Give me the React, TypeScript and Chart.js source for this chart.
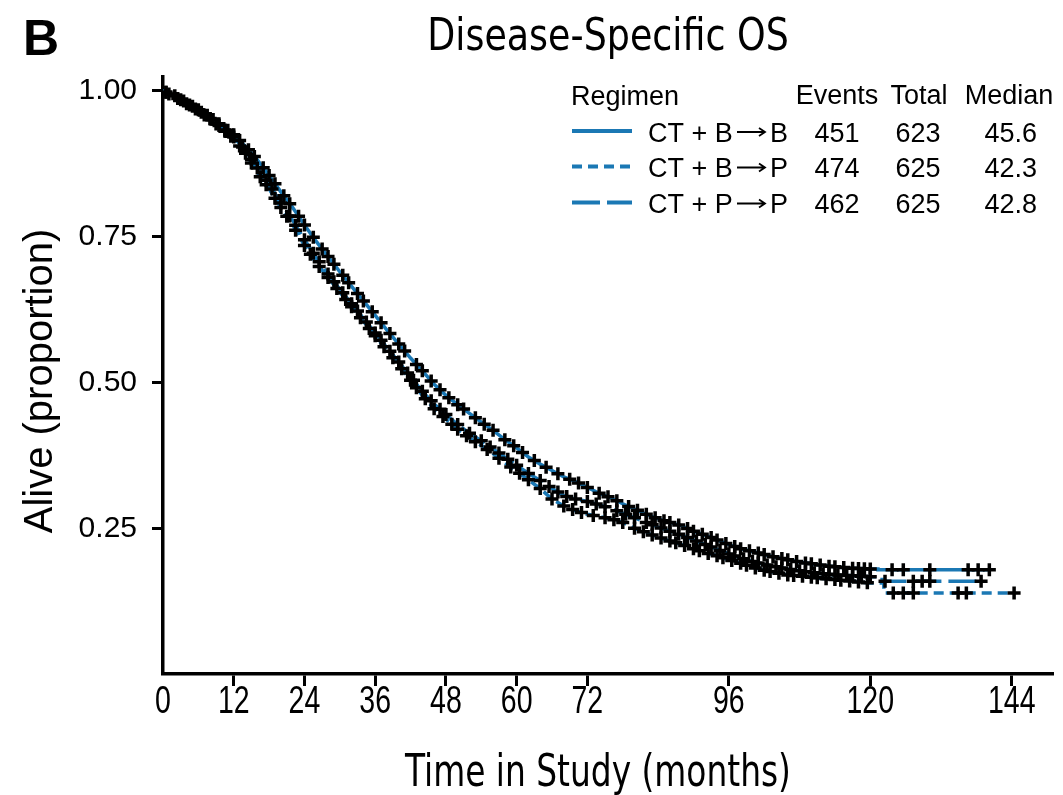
import React, { useEffect, useRef } from 'react';
import { Chart, registerables } from 'chart.js';

Chart.register(...registerables);

const BLUE = '#1b78b4';
const FAM = '"Liberation Sans", Arial, Helvetica, sans-serif';
const FAM_COND = '"DejaVu Sans Condensed", "DejaVu Sans", sans-serif';

const TITLE = 'Disease-Specific OS';
const PANEL = 'B';
const X_TITLE = 'Time in Study (months)';
const Y_TITLE = 'Alive (proportion)';

const X_TICKS = [0, 12, 24, 36, 48, 60, 72, 96, 120, 144];
const Y_TICKS = [0.25, 0.5, 0.75, 1.0];

const REG_LEFT = ['CT + B', 'CT + B', 'CT + P'];
const REG_RIGHT = ['B', 'P', 'P'];
const EVENTS = [451, 474, 462];
const TOTALS = [623, 625, 625];
const MEDIANS = ['45.6', '42.3', '42.8'];

const gridMonths = [
  0, 2, 4, 6, 8, 10, 12, 14, 16, 18, 20, 22, 24, 26, 28, 30, 32, 34, 36, 38,
  40, 42, 44, 46, 48, 50, 52, 54, 56, 58, 60, 62, 64, 66, 68, 70, 72, 74, 76, 78,
  80, 82, 84, 86, 88, 90, 92, 94, 96, 98, 100, 102, 104, 106, 108, 110, 112, 114, 116, 118, 120,
];

// CT + B -> B (solid)
const survBB = [
  1.0, 0.992, 0.98, 0.968, 0.955, 0.94, 0.925, 0.905, 0.882, 0.855, 0.827, 0.8, 0.77, 0.742, 0.716, 0.69,
  0.665, 0.64, 0.615, 0.59, 0.566, 0.542, 0.52, 0.497, 0.478, 0.462, 0.447, 0.432, 0.418, 0.402,
  0.388, 0.372, 0.36, 0.349, 0.338, 0.33, 0.32, 0.31, 0.302, 0.292, 0.283, 0.274, 0.266, 0.26, 0.254,
  0.245, 0.238, 0.23, 0.222, 0.215, 0.21, 0.205, 0.2, 0.196, 0.192, 0.189, 0.186, 0.184, 0.182, 0.181, 0.18,
];
const tailMonthsBB = [121.3, 121.3, 140.2];
const tailSurvBB = [0.18, 0.179, 0.179];

// CT + B -> P (dotted)
const survBP = [
  1.0, 0.99, 0.978, 0.966, 0.952, 0.935, 0.918, 0.893, 0.86, 0.832, 0.8, 0.77, 0.735, 0.705, 0.68, 0.655,
  0.63, 0.605, 0.58, 0.555, 0.53, 0.504, 0.478, 0.455, 0.437, 0.42, 0.405, 0.392, 0.378, 0.362,
  0.348, 0.333, 0.318, 0.3, 0.288, 0.28, 0.274, 0.27, 0.266, 0.26, 0.25, 0.242, 0.235, 0.228, 0.222,
  0.215, 0.208, 0.203, 0.196, 0.19, 0.183, 0.178, 0.174, 0.17, 0.168, 0.166, 0.164, 0.162, 0.16, 0.158, 0.156,
];
const tailMonthsBP = [122.3, 122.3, 144.4];
const tailSurvBP = [0.156, 0.139, 0.139];

// CT + P -> P (dashed)
const survPP = [
  1.0, 0.991, 0.979, 0.967, 0.953, 0.937, 0.921, 0.898, 0.868, 0.84, 0.808, 0.778, 0.745, 0.714, 0.686, 0.66,
  0.635, 0.61, 0.585, 0.56, 0.535, 0.51, 0.485, 0.463, 0.445, 0.428, 0.413, 0.4, 0.386, 0.372,
  0.358, 0.344, 0.332, 0.318, 0.306, 0.3, 0.296, 0.29, 0.284, 0.276, 0.268, 0.26, 0.252, 0.245, 0.238,
  0.23, 0.222, 0.214, 0.206, 0.199, 0.193, 0.188, 0.184, 0.18, 0.177, 0.174, 0.172, 0.17, 0.169, 0.168, 0.167,
];
const tailMonthsPP = [122, 122, 138.8];
const tailSurvPP = [0.167, 0.159, 0.159];

// censoring times (months)
const censorBB = [
  0.5, 2, 3.5, 5, 6, 7.5, 8.5, 9.5, 11, 12, 13, 14.5, 15.5, 17, 18, 19, 20.5, 21.5, 23, 24, 25.5, 27, 28, 29,
  30.5, 31.5, 33, 34, 35.5, 37, 38.5, 40, 41, 43, 44, 45.5, 47, 48.5, 50, 51, 53, 54.5, 56, 58, 59.5, 61, 63,
  65, 67, 69, 70.5, 72, 74, 75.5, 77, 79, 80.5, 82, 83.5, 85, 86, 87.5, 89, 90, 91.5, 93, 94, 95.5, 97, 98,
  99.5, 101, 102, 103.5, 105, 106, 107.5, 109, 110, 111.5, 113, 114, 115.5, 117, 118, 119, 120,
  123.7, 125.6, 130.1, 136.6, 138.3, 140.2,
];
const censorBP = [
  1, 2.5, 4, 5.5, 7, 8, 9, 10.5, 11.5, 13, 14, 15, 16.5, 17.5, 19, 20, 21, 22.5, 24, 25, 26.5, 28, 29.5, 31,
  32, 33.5, 35, 36, 37.5, 39, 40.5, 42, 43, 44.5, 46, 47.5, 49, 50, 51.5, 53, 55, 57, 59, 60.5, 62, 64, 66,
  68, 69.5, 71, 73, 75, 76.5, 78, 80, 81.5, 83, 84.5, 86, 87, 88.5, 90, 91, 92.5, 94, 95, 96.5, 98, 99, 100.5,
  102, 103, 104.5, 106, 107, 108.5, 110, 111, 112.5, 114, 115, 116.5, 118, 119.5,
  123.9, 125.6, 127.3, 134.9, 136.3, 144.4,
];
const censorPP = [
  0.5, 3, 4.5, 6.5, 8, 9.5, 10.5, 12, 13.5, 15, 16, 17.5, 18.5, 20, 21.5, 22.5, 24, 25.5, 26.5, 28, 29, 30.5,
  32, 33, 34.5, 36, 37, 38.5, 40, 41.5, 42.5, 44, 45.5, 47, 48, 50, 52, 54, 55.5, 57, 58.5, 60, 62, 64, 65.5,
  67, 68.5, 70, 72, 73.5, 75, 77, 78.5, 80, 82, 83, 84.5, 86, 87.5, 89, 90.5, 92, 93, 94.5, 96, 97, 98.5, 100,
  101, 102.5, 104, 105, 106.5, 108, 109, 110.5, 112, 113, 114.5, 116, 117, 118.5, 120,
  122.5, 127.3, 128.8, 130.1, 138.8,
];

type Pt = { x: number; y: number };

function buildCurve(tailMonths: number[], tailSurv: number[], surv: number[]): Pt[] {
  const pts: Pt[] = gridMonths.map((m, i) => ({ x: m, y: surv[i] }));
  tailMonths.forEach((m, i) => pts.push({ x: m, y: tailSurv[i] }));
  return pts;
}

function valueAt(curve: Pt[], t: number): number {
  let best = curve[0].y;
  for (let i = 0; i < curve.length - 1; i++) {
    const a = curve[i];
    const b = curve[i + 1];
    if (t >= a.x && t <= b.x) {
      if (b.x === a.x) return a.y;
      return a.y + ((b.y - a.y) * (t - a.x)) / (b.x - a.x);
    }
    if (t > b.x) best = b.y;
  }
  return best;
}

const DASHES = [[], [10, 6], [28, 7]];

function scaledText(
  ctx: CanvasRenderingContext2D,
  text: string,
  x: number,
  y: number,
  font: string,
  sx: number,
  align: CanvasTextAlign,
) {
  ctx.save();
  ctx.translate(x, y);
  ctx.scale(sx, 1);
  ctx.font = font;
  ctx.textAlign = align;
  ctx.fillText(text, 0, 0);
  ctx.restore();
}

const overlayPlugin = {
  id: 'overlay',
  afterDraw(chart: any) {
    const ctx: CanvasRenderingContext2D = chart.ctx;
    ctx.save();
    ctx.fillStyle = '#000';
    ctx.textBaseline = 'alphabetic';

    ctx.textAlign = 'left';
    ctx.font = `bold 50px ${FAM}`;
    ctx.fillText(PANEL, 23, 55);

    scaledText(ctx, TITLE, 608, 50, `44px ${FAM_COND}`, 0.92, 'center');
    scaledText(ctx, X_TITLE, 598, 786, `44px ${FAM_COND}`, 0.83, 'center');

    // x tick labels (condensed)
    const xs = chart.scales.x;
    X_TICKS.forEach((v) => {
      scaledText(ctx, String(v), xs.getPixelForValue(v), 713, `38px ${FAM}`, 0.75, 'center');
    });

    ctx.save();
    ctx.translate(52, 381);
    ctx.rotate(-Math.PI / 2);
    ctx.font = `40px ${FAM}`;
    ctx.textAlign = 'center';
    ctx.fillText(Y_TITLE, 0, 0);
    ctx.restore();

    // legend table
    ctx.font = `27px ${FAM}`;
    ctx.textAlign = 'left';
    ctx.fillText('Regimen', 571, 105);
    ctx.textAlign = 'center';
    ctx.fillText('Events', 837, 104);
    ctx.fillText('Total', 919, 104);
    ctx.fillText('Median', 1009, 104);

    const rowBase = [141.5, 177, 213];
    REG_LEFT.forEach((name, i) => {
      const yb = rowBase[i];
      ctx.save();
      ctx.strokeStyle = BLUE;
      ctx.lineWidth = 4;
      ctx.setLineDash(DASHES[i]);
      ctx.beginPath();
      ctx.moveTo(572, yb - 10.5);
      ctx.lineTo(632, yb - 10.5);
      ctx.stroke();
      ctx.restore();

      ctx.textAlign = 'left';
      ctx.fillText(name, 648, yb);
      // arrow
      ctx.save();
      ctx.strokeStyle = '#000';
      ctx.lineWidth = 1.8;
      const ay = yb - 9.5;
      ctx.beginPath();
      ctx.moveTo(737, ay);
      ctx.lineTo(765, ay);
      ctx.moveTo(759, ay - 4);
      ctx.lineTo(765, ay);
      ctx.lineTo(759, ay + 4);
      ctx.stroke();
      ctx.restore();
      ctx.fillText(REG_RIGHT[i], 770, yb);

      ctx.textAlign = 'center';
      ctx.fillText(String(EVENTS[i]), 837, yb);
      ctx.fillText(String(TOTALS[i]), 918, yb);
      ctx.textAlign = 'right';
      ctx.fillText(MEDIANS[i], 1037, yb);
    });
    ctx.restore();
  },
};

export default function App() {
  const ref = useRef<HTMLCanvasElement | null>(null);

  useEffect(() => {
    if (!ref.current) return;
    const curveBB = buildCurve(tailMonthsBB, tailSurvBB, survBB);
    const curveBP = buildCurve(tailMonthsBP, tailSurvBP, survBP);
    const curvePP = buildCurve(tailMonthsPP, tailSurvPP, survPP);
    const curves = [curveBB, curveBP, curvePP];
    const censors = [censorBB, censorBP, censorPP];

    const lineSets = curves.map((c, i) => ({
      type: 'line' as const,
      label: REG_LEFT[i] + ' -> ' + REG_RIGHT[i],
      data: c,
      borderColor: BLUE,
      backgroundColor: BLUE,
      borderWidth: 3.5,
      borderDash: DASHES[i],
      pointRadius: 0,
      fill: false,
      tension: 0,
      order: 2,
    }));
    const markSets = censors.map((cs, i) => ({
      type: 'line' as const,
      label: REG_LEFT[i] + ' -> ' + REG_RIGHT[i] + ' censored',
      data: cs.map((t) => ({ x: t, y: valueAt(curves[i], t) })),
      showLine: false,
      pointStyle: 'cross',
      pointRadius: 6.5,
      pointBorderWidth: 3.5,
      pointBorderColor: '#000',
      borderColor: '#000',
      order: 1,
    }));

    const chart = new Chart(ref.current, {
      type: 'line',
      data: { datasets: [...lineSets, ...markSets] as any },
      options: {
        responsive: false,
        animation: false,
        maintainAspectRatio: false,
        layout: { padding: { left: 0, right: 5, top: 77, bottom: 0 } },
        plugins: {
          legend: { display: false },
          title: { display: false },
          tooltip: { enabled: false },
        },
        scales: {
          x: {
            type: 'linear',
            min: 0,
            max: 151,
            afterBuildTicks: (s: any) => {
              s.ticks = X_TICKS.map((v) => ({ value: v }));
            },
            afterFit: (s: any) => {
              s.height = 121;
            },
            grid: {
              drawOnChartArea: false,
              drawTicks: true,
              tickLength: 12,
              tickWidth: 3,
              tickColor: (c: any) => (c.tick && c.tick.value === 0 ? 'rgba(0,0,0,0)' : '#000'),
            },
            border: { display: true, color: '#000', width: 3.5 },
            ticks: { display: false, autoSkip: false, maxRotation: 0 },
          },
          y: {
            type: 'linear',
            min: 0,
            max: 1.024,
            afterBuildTicks: (s: any) => {
              s.ticks = Y_TICKS.map((v) => ({ value: v }));
            },
            afterFit: (s: any) => {
              s.width = 163;
            },
            grid: {
              drawOnChartArea: false,
              drawTicks: true,
              tickLength: 11,
              tickWidth: 3,
              tickColor: '#000',
            },
            border: { display: true, color: '#000', width: 3.5 },
            ticks: {
              color: '#000',
              padding: 15,
              font: { family: FAM, size: 30 },
              callback: (v: any) => Number(v).toFixed(2),
            },
          },
        },
      },
      plugins: [overlayPlugin],
    });
    return () => chart.destroy();
  }, []);

  return (
    <div style={{ position: 'absolute', left: 0, top: 0, width: 1063, height: 795, background: '#fff' }}>
      <canvas ref={ref} width={1063} height={795} style={{ display: 'block', width: 1063, height: 795 }} />
    </div>
  );
}
